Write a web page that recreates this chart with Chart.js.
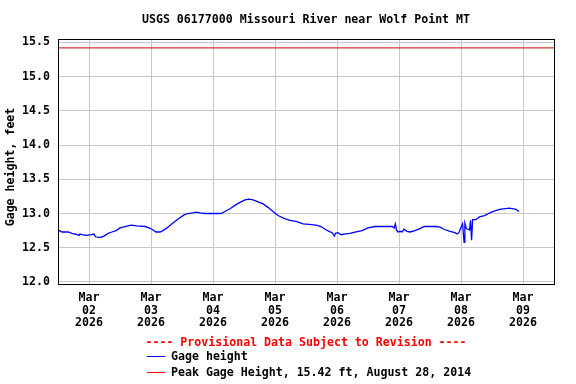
<!DOCTYPE html>
<html>
<head>
<meta charset="utf-8">
<script src="https://cdn.jsdelivr.net/npm/chart.js@4"></script>
<style>
  html, body { margin: 0; padding: 0; background: #fff; }
  #wrap { width: 576px; height: 384px; }
</style>
</head>
<body>
<div id="wrap"><canvas id="myChart" width="576" height="384"></canvas></div>
<script>
// hours since Mar 02 2026 00:00
const hours = [
    -11.8, -11.4, -10.5, -8.1, -6.6, -5.4, -4.6, -3.9, -3.5, -2.7, -1.2, 0.8, 1.9, 2.5, 3.9, 4.6,
    5.8, 7.4, 8.9, 10.5, 12.0, 13.9, 16.3, 18.6, 21.7, 23.2, 24.4, 25.9, 27.5, 28.6, 30.2, 32.1,
    34.5, 36.8, 38.3, 40.3, 41.4, 43.0, 44.9, 48.8, 51.1, 52.6, 54.6, 56.9, 58.8, 60.4, 61.9, 63.5,
    65.4, 67.4, 69.3, 71.2, 73.2, 75.5, 77.8, 80.5, 82.8, 85.2, 87.9, 89.8, 91.4, 92.9, 94.1, 95.0,
    95.4, 96.4, 97.5, 98.7, 101.0, 103.4, 105.7, 108.0, 110.7, 113.4, 117.3, 118.1, 118.6, 119.0,
    119.6, 120.4, 121.2, 121.9, 123.1, 124.3, 126.2, 128.1, 129.7, 132.0, 134.3, 135.9, 137.4,
    139.7, 141.7, 142.5, 143.2, 144.0, 144.6, 145.2, 145.5, 146.1, 146.7, 147.3, 147.7, 148.1,
    148.5, 149.8, 151.1, 153.1, 155.7, 158.9, 162.7, 165.3, 166.5,
];
const gageHeight = [
    12.74, 12.75, 12.73, 12.73, 12.71, 12.70, 12.69, 12.68, 12.70, 12.69, 12.68, 12.69, 12.70, 12.66, 12.65, 12.65,
    12.67, 12.71, 12.73, 12.75, 12.79, 12.81, 12.83, 12.82, 12.81, 12.79, 12.77, 12.73, 12.73, 12.75, 12.79, 12.85,
    12.92, 12.98, 13.00, 13.01, 13.02, 13.01, 13.00, 13.00, 13.00, 13.03, 13.07, 13.13, 13.17, 13.20, 13.21, 13.20,
    13.17, 13.14, 13.09, 13.03, 12.97, 12.93, 12.90, 12.88, 12.85, 12.84, 12.83, 12.81, 12.77, 12.74, 12.72, 12.67,
    12.71, 12.72, 12.69, 12.70, 12.71, 12.73, 12.75, 12.79, 12.81, 12.81, 12.81, 12.79, 12.85, 12.76,
    12.73, 12.74, 12.73, 12.77, 12.74, 12.73, 12.75, 12.78, 12.81, 12.81, 12.81, 12.80, 12.77,
    12.74, 12.72, 12.70, 12.72, 12.80, 12.85, 12.58, 12.86, 12.78, 12.77, 12.76, 12.90, 12.61,
    12.91, 12.91, 12.95, 12.97, 13.02, 13.06, 13.08, 13.06, 13.03,
];
const dayTicks = [0, 24, 48, 72, 96, 120, 144, 168];
const dayLabels = ["02", "03", "04", "05", "06", "07", "08", "09"];
const yTicks = [12.0, 12.5, 13.0, 13.5, 14.0, 14.5, 15.0, 15.5];
const peakHeight = 15.42;
const xMin = -12;
const xMax = 180;

const FONT = "'DejaVu Sans Mono', monospace";
const blue = "#0000ff";
const red = "#d40000";

// title, y title, frame and legend drawn on the canvas
const extras = {
    id: "extras",
    afterDraw(chart) {
        const ctx = chart.ctx;
        const a = chart.chartArea;
        ctx.save();
        ctx.strokeStyle = "#000";
        ctx.lineWidth = 1;
        ctx.strokeRect(Math.round(a.left) + 0.5, Math.round(a.top) + 0.5,
            Math.round(a.right - a.left), Math.round(a.bottom - a.top));

        ctx.font = "bold 11.6px " + FONT;
        ctx.fillStyle = "#000";
        ctx.textBaseline = "middle";
        ctx.textAlign = "center";
        ctx.fillText("USGS 06177000 Missouri River near Wolf Point MT", (a.left + a.right) / 2, 20);

        ctx.save();
        ctx.translate(11, 167);
        ctx.rotate(-Math.PI / 2);
        ctx.fillText("Gage height, feet", 0, 0);
        ctx.restore();

        ctx.fillStyle = "#ff0000";
        ctx.fillText("---- Provisional Data Subject to Revision ----", 306, 343);

        ctx.textAlign = "left";
        ctx.fillStyle = "#000";
        ctx.fillText("Gage height", 171, 357);
        ctx.fillText("Peak Gage Height, 15.42 ft, August 28, 2014", 171, 372.5);
        ctx.lineWidth = 1;
        ctx.strokeStyle = blue;
        ctx.beginPath(); ctx.moveTo(147, 356.5); ctx.lineTo(165, 356.5); ctx.stroke();
        ctx.strokeStyle = "#ff0000";
        ctx.beginPath(); ctx.moveTo(147, 372.5); ctx.lineTo(165, 372.5); ctx.stroke();
        ctx.restore();
    },
};

const ctx = document.getElementById("myChart").getContext("2d");
const chart = new Chart(ctx, {
    type: "line",
    data: {
        datasets: [
            {
                label: "Gage height",
                data: hours.map((h, i) => ({ x: h, y: gageHeight[i] })),
                borderColor: blue,
                borderWidth: 1.3,
                pointRadius: 0,
                tension: 0,
            },
            {
                label: "Peak Gage Height",
                data: [{ x: xMin, y: peakHeight }, { x: xMax, y: peakHeight }],
                borderColor: red,
                borderWidth: 1,
                pointRadius: 0,
            },
        ],
    },
    options: {
        responsive: false,
        animation: false,
        devicePixelRatio: 1,
        layout: { padding: { top: 39, right: 22, bottom: 0, left: 0 } },
        plugins: {
            legend: { display: false },
            tooltip: { enabled: false },
        },
        scales: {
            x: {
                type: "linear",
                min: xMin,
                max: xMax,
                afterBuildTicks: (scale) => {
                    scale.ticks = dayTicks.map((v) => ({ value: v }));
                },
                afterFit: (scale) => { scale.height = 100; },
                grid: { color: "#c8c8c8", drawTicks: false },
                border: { display: false },
                ticks: {
                    padding: 7,
                    maxRotation: 0,
                    autoSkip: false,
                    color: "#000",
                    font: { family: FONT, size: 11.6, weight: "bold", lineHeight: 1.12 },
                    callback: (v) => {
                        const i = dayTicks.indexOf(v);
                        return ["Mar", dayLabels[i], "2026"];
                    },
                },
            },
            y: {
                min: 11.97,
                max: 15.55,
                afterBuildTicks: (scale) => {
                    scale.ticks = yTicks.map((v) => ({ value: v }));
                },
                afterFit: (scale) => { scale.width = 58; },
                grid: { color: "#c8c8c8", drawTicks: false },
                border: { display: false },
                ticks: {
                    padding: 8,
                    color: "#000",
                    font: { family: FONT, size: 11.6, weight: "bold" },
                    callback: (v) => v.toFixed(1),
                },
            },
        },
    },
    plugins: [extras],
});
</script>
</body>
</html>
